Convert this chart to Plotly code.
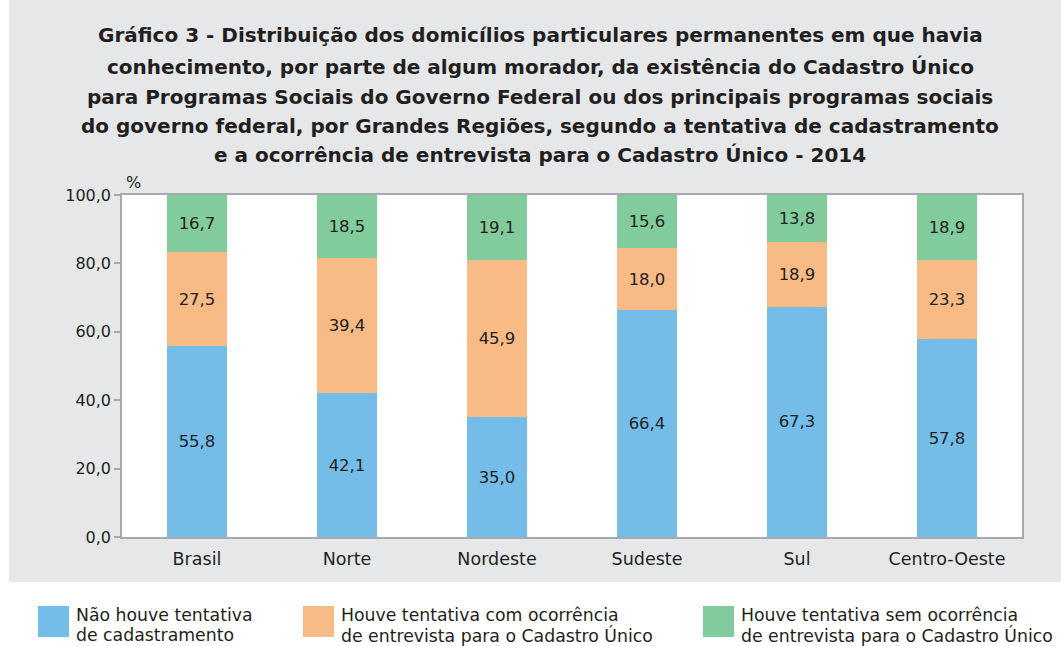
import plotly.graph_objects as go

categories = ["Brasil", "Norte", "Nordeste", "Sudeste", "Sul", "Centro-Oeste"]
nao_houve = [55.8, 42.1, 35.0, 66.4, 67.3, 57.8]
com_entrevista = [27.5, 39.4, 45.9, 18.0, 18.9, 23.3]
sem_entrevista = [16.7, 18.5, 19.1, 15.6, 13.8, 18.9]
series_names = [
    "Não houve tentativa<br>de cadastramento",
    "Houve tentativa com ocorrência<br>de entrevista para o Cadastro Único",
    "Houve tentativa sem ocorrência<br>de entrevista para o Cadastro Único",
]
colors = ["#74BDE8", "#F9BB85", "#82CB9C"]
title_lines = [
    "Gráfico 3 - Distribuição dos domicílios particulares permanentes em que havia",
    "conhecimento, por parte de algum morador, da existência do Cadastro Único",
    "para Programas Sociais do Governo Federal ou dos principais programas sociais",
    "do governo federal, por Grandes Regiões, segundo a tentativa de cadastramento",
    "e a ocorrência de entrevista para o Cadastro Único - 2014",
]

FONT = "DejaVu Sans"
TXT = "#231F20"

W, H = 1061, 646
L, R, T, B = 122, 39, 195, 109
PW, PH = W - L - R, H - T - B


def px(x):
    return (x - L) / PW


def py(y):
    return (H - B - y) / PH


fig = go.Figure()
for vals, name, col in zip([nao_houve, com_entrevista, sem_entrevista], series_names, colors):
    fig.add_trace(go.Bar(
        x=categories, y=vals, name=name, marker=dict(color=col, line=dict(width=0)),
        texttemplate="%{y:.1f}", textposition="inside", insidetextanchor="middle",
        textfont=dict(family=FONT, size=16.5, color=TXT), textangle=0,
        showlegend=False, hoverinfo="skip",
    ))

shapes = [
    dict(type="rect", xref="paper", yref="paper", x0=px(9), x1=px(W + 5), y0=py(582), y1=py(-5),
         fillcolor="#E6E7E9", line=dict(width=0), layer="below"),
    dict(type="rect", xref="paper", yref="paper", x0=0, x1=1, y0=0, y1=1,
         fillcolor="white", line=dict(width=0), layer="below"),
]
annotations = []
title_y = [35, 67, 97, 126, 155]
for line, yy in zip(title_lines, title_y):
    annotations.append(dict(text="<b>" + line + "</b>", xref="paper", yref="paper", x=px(540), y=py(yy),
                            xanchor="center", yanchor="middle", showarrow=False,
                            font=dict(family=FONT, size=20, color=TXT)))
annotations.append(dict(text="%", xref="paper", yref="paper", x=px(124), y=py(183), xanchor="left",
                        yanchor="middle", showarrow=False, font=dict(family=FONT, size=16, color=TXT)))

leg_x = [38, 303, 703]
for lx, name, col in zip(leg_x, series_names, colors):
    shapes.append(dict(type="rect", xref="paper", yref="paper", x0=px(lx), x1=px(lx + 31),
                       y0=py(637), y1=py(606), fillcolor=col, line=dict(width=0)))
    for part, yy in zip(name.split("<br>"), [615, 635]):
        annotations.append(dict(text=part, xref="paper", yref="paper", x=px(lx + 36), y=py(yy),
                                xanchor="left", yanchor="middle", align="left", showarrow=False,
                                font=dict(family=FONT, size=17.3, color=TXT)))

fig.update_layout(
    width=W, height=H,
    margin=dict(l=L, r=R, t=T, b=B, pad=0),
    barmode="stack", bargap=0.6,
    paper_bgcolor="white", plot_bgcolor="white",
    separators=",.",
    shapes=shapes, annotations=annotations,
    font=dict(family=FONT, color=TXT),
    uniformtext=dict(mode="show", minsize=10),
)
fig.update_xaxes(showline=True, linecolor="#A7A9AC", linewidth=1.5, mirror=True, ticks="",
                 ticklabelstandoff=5,
                 tickfont=dict(family=FONT, size=17.5, color=TXT), showgrid=False)
fig.update_yaxes(range=[0, 100], tickvals=[0, 20, 40, 60, 80, 100], tickformat=".1f",
                 showline=True, linecolor="#A7A9AC", linewidth=1.5, mirror=True,
                 ticks="outside", ticklen=6, tickcolor="#A7A9AC", tickwidth=1.5,
                 tickfont=dict(family=FONT, size=16, color=TXT), showgrid=False, zeroline=False)

fig.write_html("out.html", config={"displayModeBar": False},
               post_script="document.body.style.margin='0';document.body.style.overflow='hidden';")
